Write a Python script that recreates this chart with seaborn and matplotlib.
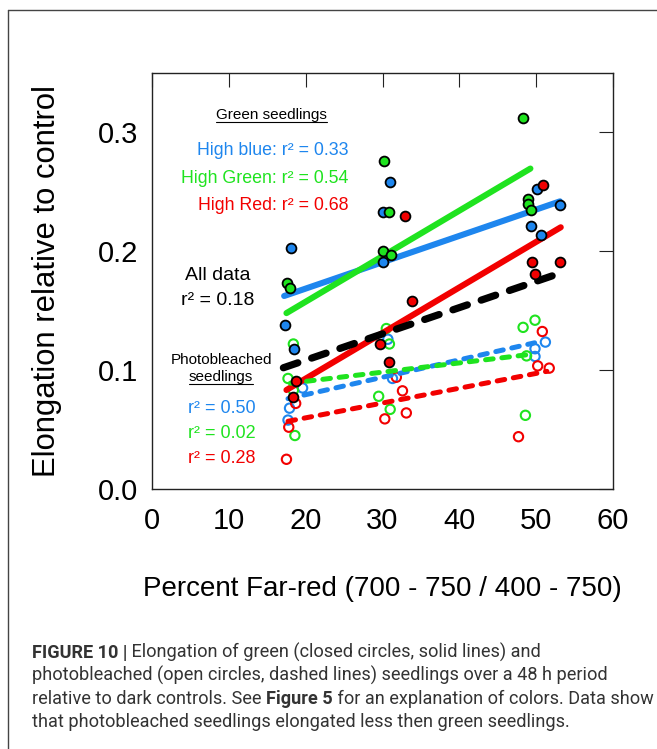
import numpy as np
import pandas as pd
import matplotlib
matplotlib.use("Agg")
import matplotlib.pyplot as plt
import seaborn as sns
from matplotlib.lines import Line2D
from matplotlib.transforms import IdentityTransform
from matplotlib import font_manager

# ---------------- data ----------------
# Green seedlings (closed circles)
g_blue_x = [18.1, 17.3, 18.5, 30.0, 31.0, 30.0, 50.15, 53.1, 49.3, 50.6]
g_blue_y = [0.203, 0.138, 0.118, 0.233, 0.258, 0.191, 0.2525, 0.239, 0.2216, 0.214]
g_green_x = [17.6, 18.0, 30.2, 30.8, 30.0, 31.1, 48.25, 48.9, 49.0, 49.3]
g_green_y = [0.173, 0.169, 0.276, 0.233, 0.200, 0.197, 0.312, 0.244, 0.240, 0.235]
g_red_x = [18.8, 18.4, 32.9, 33.8, 29.7, 30.9, 50.9, 49.4, 53.1, 49.8]
g_red_y = [0.091, 0.077, 0.230, 0.158, 0.122, 0.107, 0.256, 0.191, 0.1907, 0.181]

# Photobleached seedlings (open circles)
p_blue_x = [19.6, 17.9, 17.7, 30.7, 31.3, 51.2, 49.85, 49.85]
p_blue_y = [0.085, 0.068, 0.058, 0.126, 0.093, 0.1236, 0.118, 0.1115]
p_green_x = [18.4, 17.7, 18.4, 18.6, 30.5, 30.9, 29.5, 31.0, 49.85, 48.3, 48.75, 48.6]
p_green_y = [0.122, 0.093, 0.083, 0.045, 0.135, 0.122, 0.078, 0.067, 0.142, 0.136, 0.112, 0.062]
p_red_x = [18.7, 17.8, 17.5, 30.3, 31.8, 32.6, 33.1, 50.8, 50.2, 51.7, 47.7]
p_red_y = [0.072, 0.052, 0.025, 0.059, 0.094, 0.0826, 0.064, 0.1325, 0.1036, 0.1017, 0.044]

# Regression lines (end points)
fit_g_blue_x, fit_g_blue_y = [17.2, 53.1], [0.1624, 0.242]
fit_g_green_x, fit_g_green_y = [17.5, 49.25], [0.148, 0.2696]
fit_g_red_x, fit_g_red_y = [17.5, 53.2], [0.0833, 0.2202]
fit_all_x, fit_all_y = [17.1, 53.3], [0.102, 0.182]
fit_p_blue_x, fit_p_blue_y = [17.7, 49.8], [0.076, 0.123]
fit_p_green_x, fit_p_green_y = [18.0, 48.9], [0.089, 0.113]
fit_p_red_x, fit_p_red_y = [17.7, 51.4], [0.057, 0.099]

x_ticks = [0, 10, 20, 30, 40, 50, 60]
y_ticks = [0.0, 0.1, 0.2, 0.3]
y_tick_labels = ["0.0", "0.1", "0.2", "0.3"]

BLUE = "#1e86ee"
GREEN = "#1fe31f"
RED = "#f20000"

green_r2 = [("High blue: r² = 0.33", BLUE), ("High Green: r² = 0.54", GREEN), ("High Red: r² = 0.68", RED)]
bleach_r2 = [("r² = 0.50", BLUE), ("r² = 0.02", GREEN), ("r² = 0.28", RED)]

caption_bold = "FIGURE 10 |"
caption_lines = [
    " Elongation of green (closed circles, solid lines) and",
    "photobleached (open circles, dashed lines) seedlings over a 48 h period",
    None,  # line 3 has mixed bold text
    "that photobleached seedlings elongated less then green seedlings.",
]

# ---------------- figure ----------------
sns.set_theme(style="white")
plt.rcParams["font.family"] = ["Liberation Sans", "DejaVu Sans"]
plt.rcParams["lines.scale_dashes"] = False

W, H = 657, 749
fig = plt.figure(figsize=(W / 100, H / 100), dpi=100)
fig.patch.set_facecolor("white")
ax = fig.add_axes([152 / W, 1 - 489 / H, (613 - 152) / W, (489 - 73) / H])
ax.set_facecolor("white")

# open circles
for xs, ys, c in [(p_blue_x, p_blue_y, BLUE), (p_green_x, p_green_y, GREEN), (p_red_x, p_red_y, RED)]:
    sns.scatterplot(x=xs, y=ys, ax=ax, color=c, facecolor="none", edgecolor=c,
                    linewidth=1.5, s=45, zorder=2, legend=False)

# regression lines
solid_kw = dict(estimator=None, sort=False, legend=False, solid_capstyle="round")
for xs, ys, c in [(fit_g_blue_x, fit_g_blue_y, BLUE), (fit_g_green_x, fit_g_green_y, GREEN),
                  (fit_g_red_x, fit_g_red_y, RED)]:
    sns.lineplot(x=xs, y=ys, ax=ax, color=c, lw=4.4, zorder=3, **solid_kw)

dash_kw = dict(estimator=None, sort=False, legend=False, dash_capstyle="round")
for xs, ys, c in [(fit_p_blue_x, fit_p_blue_y, BLUE), (fit_p_green_x, fit_p_green_y, GREEN),
                  (fit_p_red_x, fit_p_red_y, RED)]:
    sns.lineplot(x=xs, y=ys, ax=ax, color=c, lw=3.6, linestyle=(0, (5.5, 6.3)), zorder=3, **dash_kw)
sns.lineplot(x=fit_all_x, y=fit_all_y, ax=ax, color="black", lw=5.2,
             linestyle=(0, (11, 10.5)), zorder=3, **dash_kw)

# closed circles
for xs, ys, c in [(g_blue_x, g_blue_y, BLUE), (g_green_x, g_green_y, GREEN), (g_red_x, g_red_y, RED)]:
    sns.scatterplot(x=xs, y=ys, ax=ax, color=c, edgecolor="black",
                    linewidth=1.3, s=50, zorder=4, legend=False)

# axes styling
ax.set_xlim(0, 60)
ax.set_ylim(0, 0.35)
ax.set_xticks(x_ticks)
ax.set_xticklabels([str(t) for t in x_ticks])
ax.set_yticks(y_ticks)
ax.set_yticklabels(y_tick_labels)
for sp in ax.spines.values():
    sp.set_visible(True)
    sp.set_color("#222222")
    sp.set_linewidth(1.0)
ax.tick_params(axis="both", direction="in", length=10, width=0.8, color="#222222",
               top=True, right=True, labelsize=21, labelcolor="black")
ax.tick_params(axis="x", pad=13)
ax.tick_params(axis="y", pad=10)
ax.grid(False)

ax.set_xlabel("Percent Far-red (700 - 750 / 400 - 750)", fontsize=20, color="black")
ax.set_ylabel("Elongation relative to control", fontsize=22.3, color="black")
ax.xaxis.set_label_coords(0.5, -0.21)
ax.yaxis.set_label_coords(-0.195, 0.5)

# annotations
t_gs = ax.text(15.6, 0.3110, "Green seedlings", fontsize=11, ha="center", va="baseline", color="black")
for (txt, c), yb in zip(green_r2, [0.2810, 0.2577, 0.2347]):
    ax.text(25.6, yb, txt, fontsize=12.8, ha="right", va="baseline", color=c)
ax.text(8.5, 0.1758, "All data", fontsize=14, ha="center", va="baseline", color="black")
ax.text(8.5, 0.1548, "r² = 0.18", fontsize=14, ha="center", va="baseline", color="black")
ax.text(9.0, 0.1052, "Photobleached", fontsize=11, ha="center", va="baseline", color="black")
t_sd = ax.text(9.0, 0.0909, "seedlings", fontsize=11, ha="center", va="baseline", color="black")
for (txt, c), yb in zip(bleach_r2, [0.0637, 0.0427, 0.0222]):
    ax.text(9.05, yb, txt, fontsize=13, ha="center", va="baseline", color=c)

fig.canvas.draw()
renderer = fig.canvas.get_renderer()
for t, yb in [(t_gs, 0.3110), (t_sd, 0.0909)]:
    bb = t.get_window_extent(renderer)
    ypix = ax.transData.transform((0, yb))[1] - 2.8
    fig.add_artist(Line2D([bb.x0, bb.x1], [ypix, ypix], transform=IdentityTransform(),
                          color="black", lw=0.8))

# outer frame (left and top edges visible)
fig.add_artist(Line2D([8 / W, 8 / W], [0, 1 - 10 / H], transform=fig.transFigure, color="#444444", lw=1.0))
fig.add_artist(Line2D([8 / W, 1], [1 - 10 / H, 1 - 10 / H], transform=fig.transFigure, color="#444444", lw=1.0))

# caption
cap_color = "#333333"
try:
    font_manager.findfont("Liberation Sans Narrow", fallback_to_default=False)
    cap_family = "Liberation Sans Narrow"
except Exception:
    cap_family = "Roboto"

probe = fig.text(0, 0, "relative to dark controls. See Figure 5 for an explanation of colors. Data show",
                 fontsize=12, family=cap_family)
fig.canvas.draw()
wprobe = probe.get_window_extent(renderer).width
probe.remove()
cap_size = 12 * (650 - 32) / wprobe

baselines = [658, 681, 704, 727]
x0 = 32


def put_segments(segs, yb):
    x = x0
    for s, bold in segs:
        t = fig.text(x / W, 1 - yb / H, s, fontsize=cap_size, family=cap_family,
                     fontweight="bold" if bold else "normal", color=cap_color, va="baseline")
        fig.canvas.draw()
        x += t.get_window_extent(renderer).width


put_segments([(caption_bold, True), (caption_lines[0], False)], baselines[0])
put_segments([(caption_lines[1], False)], baselines[1])
put_segments([("relative to dark controls. See ", False), ("Figure 5", True),
              (" for an explanation of colors. Data show", False)], baselines[2])
put_segments([(caption_lines[3], False)], baselines[3])

fig.savefig("out.png", dpi=100, facecolor="white")
